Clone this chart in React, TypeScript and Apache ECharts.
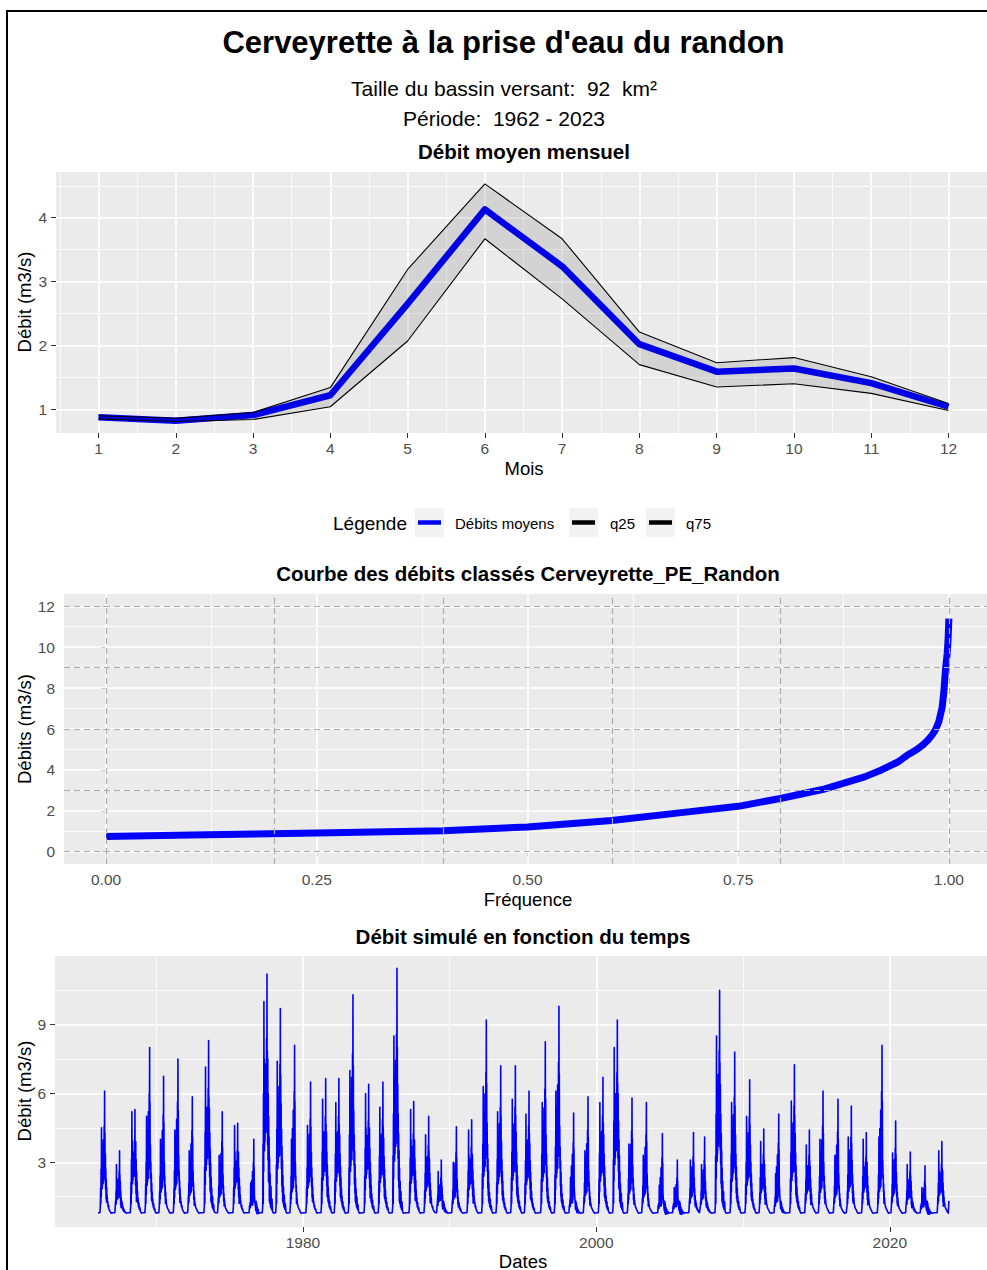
import React, { useEffect, useRef } from "react";
import * as echarts from "echarts";

const FONT = "'Liberation Sans', Arial, Helvetica, sans-serif";

// ---------- Panel 1 : Débit moyen mensuel ----------
const mois = [1, 2, 3, 4, 5, 6, 7, 8, 9, 10, 11, 12];
const debitsMoyens = [0.875, 0.82, 0.91, 1.22, 2.65, 4.13, 3.24, 2.02, 1.59, 1.64, 1.41, 1.04];
const q25 = [0.85, 0.81, 0.84, 1.04, 2.07, 3.67, 2.73, 1.7, 1.35, 1.4, 1.25, 0.98];
const q75 = [0.9, 0.86, 0.95, 1.34, 3.19, 4.53, 3.67, 2.21, 1.73, 1.81, 1.51, 1.09];
const p1TicksX = [1, 2, 3, 4, 5, 6, 7, 8, 9, 10, 11, 12];
const p1MinorX = [0.5, 1.5, 2.5, 3.5, 4.5, 5.5, 6.5, 7.5, 8.5, 9.5, 10.5, 11.5, 12.5];
const p1TicksY = [1, 2, 3, 4];
const p1MinorY = [1.5, 2.5, 3.5, 4.5];

// ---------- Panel 2 : Courbe des débits classés ----------
const frequence = [0, 0.1, 0.25, 0.4, 0.5, 0.6, 0.68, 0.75, 0.8, 0.85, 0.9, 0.92, 0.94, 0.95, 0.962, 0.97, 0.975, 0.98, 0.984, 0.988, 0.992, 0.994, 0.996, 0.998, 0.999, 1.0];
const debitsClasses = [0.74, 0.82, 0.91, 1.03, 1.21, 1.53, 1.9, 2.22, 2.6, 3.04, 3.66, 4.0, 4.4, 4.7, 5.0, 5.25, 5.45, 5.7, 5.95, 6.35, 7.05, 7.8, 8.9, 9.7, 10.3, 11.4];
const p2TicksX = [0, 0.25, 0.5, 0.75, 1];
const p2MinorX = [0.125, 0.375, 0.625, 0.875];
const p2TicksY = [0, 2, 4, 6, 8, 10, 12];
const p2MinorY = [1, 3, 5, 7, 9, 11];
const seuilsH = [0, 3, 6, 9, 12];
const seuilsV = [0, 0.2, 0.4, 0.6, 0.8, 1.0];

// ---------- Panel 3 : Débit simulé en fonction du temps ----------
const anneeDebut = 1966;
const pointeMax = [6.1, 3.5, 5.3, 8.0, 6.75, 7.5, 5.85, 8.3, 5.2, 4.7, 4.0, 11.2, 9.7, 8.1, 6.5, 6.65, 6.65, 10.3, 6.4, 6.5, 11.45, 5.65, 5.0, 3.1, 4.55, 4.85, 9.2, 7.2, 7.2, 6.1, 8.25, 9.8, 5.15, 5.85, 6.7, 9.2, 5.8, 5.6, 4.25, 3.1, 4.3, 4.1, 10.5, 7.8, 6.6, 4.45, 5.1, 7.25, 4.4, 6.1, 5.75, 5.45, 4.3, 8.1, 4.8, 3.45, 2.85, 3.9];
const pointeSec = [4.5, 2.9, 5.2, 5.0, 4.0, 4.4, 3.5, 7.15, 3.3, 4.6, 2.1, 10.0, 7.4, 4.0, 4.6, 5.75, 5.6, 7.0, 6.0, 5.4, 8.5, 5.3, 4.2, 2.6, 3.0, 4.4, 6.3, 5.2, 5.75, 5.1, 5.6, 6.1, 2.35, 3.5, 5.6, 8.0, 3.8, 3.3, 2.0, 1.9, 3.1, 2.9, 8.5, 5.6, 5.0, 3.9, 2.5, 5.67, 3.75, 4.0, 3.3, 4.1, 4.0, 4.1, 3.4, 2.9, 1.9, 3.5];
const datePointe = [0.48, 0.5, 0.55, 0.55, 0.5, 0.48, 0.46, 0.57, 0.5, 0.55, 0.65, 0.55, 0.46, 0.43, 0.52, 0.55, 0.45, 0.41, 0.48, 0.45, 0.41, 0.55, 0.57, 0.43, 0.46, 0.5, 0.5, 0.48, 0.48, 0.41, 0.52, 0.45, 0.45, 0.43, 0.45, 0.43, 0.43, 0.41, 0.5, 0.52, 0.62, 0.38, 0.4, 0.43, 0.45, 0.41, 0.43, 0.5, 0.52, 0.45, 0.47, 0.38, 0.4, 0.47, 0.4, 0.4, 0.4, 0.55];
// hydrograph profile around each yearly flood: [offset (yr), coef peak, coef secondary, constant]
const profilCrue = [
  [-0.32, 0, 0, 0.8], [-0.29, 0, 0, 1.1], [-0.27, 0, 0.35, 0.3], [-0.255, 0, 0, 1.2],
  [-0.24, 0, 0.6, 0], [-0.225, 0, 0.2, 0.6], [-0.21, 0, 1, 0], [-0.195, 0, 0.4, 0.3],
  [-0.18, 0, 0.75, 0], [-0.165, 0, 0.3, 0.5], [-0.15, 0.55, 0, 0], [-0.135, 0, 0.35, 0.4],
  [-0.12, 0.5, 0, 0.2], [-0.105, 0, 0.45, 0.3], [-0.09, 0.65, 0, 0], [-0.075, 0, 0.4, 0.3],
  [-0.06, 0.55, 0, 0.2], [-0.045, 0, 0.5, 0.2], [-0.03, 0.75, 0, 0], [-0.015, 0.4, 0, 0.3],
  [0, 1, 0, 0], [0.012, 0.45, 0, 0.3], [0.025, 0.7, 0, 0], [0.04, 0.3, 0, 0.4],
  [0.055, 0, 0.75, 0], [0.07, 0.25, 0, 0.3], [0.085, 0, 0.6, 0], [0.1, 0.15, 0, 0.5],
  [0.115, 0, 0.5, 0], [0.13, 0, 0.15, 0.6], [0.145, 0, 0.4, 0.1], [0.16, 0, 0, 1.3],
  [0.175, 0, 0.3, 0.2], [0.195, 0, 0, 1.2], [0.215, 0, 0.22, 0.3], [0.24, 0, 0, 1.05],
  [0.27, 0, 0.15, 0.45], [0.3, 0, 0, 0.95], [0.34, 0, 0.08, 0.6], [0.38, 0, 0, 0.85],
  [0.44, 0, 0, 0.78],
];
const etiage = [[0.03, 0.8]];
const finSerie = [2024.03, 1.32];
const p3TicksX = [1980, 2000, 2020];
const p3MinorX = [1970, 1990, 2010];
const p3TicksY = [3, 6, 9];
const p3MinorY = [1.5, 4.5, 7.5, 10.5];

const serieTemps: number[][] = [];
pointeMax.forEach((P, i) => {
  const an = anneeDebut + i;
  const pf = datePointe[i];
  const S = pointeSec[i];
  etiage.forEach(([t, v]) => {
    if (t < pf - 0.33) serieTemps.push([an + t, v]);
  });
  profilCrue.forEach(([dt, a, b, c]) => {
    const t = pf + dt;
    if (t >= 0 && t < 0.995) serieTemps.push([an + t, Math.max(0.74, a * P + b * S + c)]);
  });
});
serieTemps.push(finSerie);

// ---------- helpers ----------
const tickStyle = { show: true, length: 5, lineStyle: { color: "#333333", width: 1 } };
const labelBase = { color: "#4D4D4D", fontSize: 15.5, fontFamily: FONT };

function axis(gridIndex: number, min: number, max: number, ticks: number[], margin: number, fmt: (v: number) => string) {
  return {
    type: "value",
    gridIndex,
    min,
    max,
    axisLine: { show: false },
    splitLine: { show: false },
    axisTick: { ...tickStyle, customValues: ticks },
    axisLabel: { ...labelBase, customValues: ticks, margin, formatter: (v: number) => fmt(v) },
  };
}
const plain = (v: number) => String(v);

function gridLines(idx: number, majX: number[], minX: number[], majY: number[], minY: number[]) {
  const maj = { color: "#FFFFFF", width: 1.6, type: "solid" };
  const mnr = { color: "#FFFFFF", width: 0.8, type: "solid" };
  return {
    type: "line",
    xAxisIndex: idx,
    yAxisIndex: idx,
    data: [],
    silent: true,
    z: 1,
    markLine: {
      silent: true,
      z: 1,
      precision: 6,
      symbol: ["none", "none"],
      label: { show: false },
      emphasis: { disabled: true },
      data: [
        ...minX.map((v) => ({ xAxis: v, lineStyle: mnr })),
        ...minY.map((v) => ({ yAxis: v, lineStyle: mnr })),
        ...majX.map((v) => ({ xAxis: v, lineStyle: maj })),
        ...majY.map((v) => ({ yAxis: v, lineStyle: maj })),
      ],
    },
  };
}

function txt(text: string, x: number, y: number, size: number, opts: any = {}) {
  return {
    type: "text",
    x,
    y,
    rotation: opts.rotation || 0,
    style: {
      text,
      fill: opts.fill || "#000000",
      fontSize: size,
      fontWeight: opts.bold ? "bold" : "normal",
      fontFamily: FONT,
      align: opts.align || "center",
      verticalAlign: "middle",
    },
  };
}

function legendKey(x: number, color: string) {
  return [
    { type: "rect", shape: { x, y: 508, width: 29, height: 29 }, style: { fill: "#F2F2F2" } },
    { type: "line", shape: { x1: x + 3, y1: 522.5, x2: x + 26, y2: 522.5 }, style: { stroke: color, lineWidth: 4.5 } },
  ];
}

const option: any = {
  animation: false,
  backgroundColor: "#FFFFFF",
  grid: [
    { left: 56, top: 172, width: 935, height: 261, show: true, backgroundColor: "#EBEBEB", borderWidth: 0 },
    { left: 64, top: 594, width: 927, height: 270, show: true, backgroundColor: "#EBEBEB", borderWidth: 0 },
    { left: 55, top: 956, width: 936, height: 271, show: true, backgroundColor: "#EBEBEB", borderWidth: 0 },
  ],
  xAxis: [
    axis(0, 0.45, 12.55, p1TicksX, 7, plain),
    axis(1, -0.05, 1.05, p2TicksX, 7, (v) => v.toFixed(2)),
    axis(2, 1963.1, 2026.9, p3TicksX, 7, plain),
  ],
  yAxis: [
    axis(0, 0.629, 4.716, p1TicksY, 9, plain),
    axis(1, -0.6, 12.6, p2TicksY, 9, plain),
    axis(2, 0.18, 11.99, p3TicksY, 9, plain),
  ],
  series: [
    gridLines(0, p1TicksX, p1MinorX, p1TicksY, p1MinorY),
    gridLines(1, p2TicksX, p2MinorX, p2TicksY, p2MinorY),
    gridLines(2, p3TicksX, p3MinorX, p3TicksY, p3MinorY),
    {
      name: "Débits moyens",
      type: "line",
      xAxisIndex: 0,
      yAxisIndex: 0,
      z: 2,
      showSymbol: false,
      data: mois.map((m, i) => [m, debitsMoyens[i]]),
      lineStyle: { color: "#0000FF", width: 6.5, cap: "butt", join: "round" },
    },
    {
      type: "custom",
      xAxisIndex: 0,
      yAxisIndex: 0,
      z: 3,
      silent: true,
      data: mois.map((m, i) => [m, q25[i], q75[i]]),
      encode: { x: 0, y: [1, 2] },
      renderItem: (params: any, api: any) => {
        if (params.dataIndex !== 0) return null;
        const top = mois.map((m, i) => api.coord([m, q75[i]]));
        const bot = mois.map((m, i) => api.coord([m, q25[i]])).reverse();
        return { type: "polygon", shape: { points: top.concat(bot) }, style: { fill: "rgba(0,0,0,0.1)" } };
      },
    },
    {
      name: "q25",
      type: "line",
      xAxisIndex: 0,
      yAxisIndex: 0,
      z: 4,
      showSymbol: false,
      data: mois.map((m, i) => [m, q25[i]]),
      lineStyle: { color: "#000000", width: 1.1 },
    },
    {
      name: "q75",
      type: "line",
      xAxisIndex: 0,
      yAxisIndex: 0,
      z: 4,
      showSymbol: false,
      data: mois.map((m, i) => [m, q75[i]]),
      lineStyle: { color: "#000000", width: 1.1 },
    },
    {
      name: "Débits classés",
      type: "line",
      xAxisIndex: 1,
      yAxisIndex: 1,
      z: 2,
      showSymbol: false,
      data: frequence.map((f, i) => [f, debitsClasses[i]]),
      lineStyle: { color: "#0000FF", width: 7, cap: "butt", join: "round" },
      markLine: {
        silent: true,
        z: 10,
        precision: 6,
        symbol: ["none", "none"],
        label: { show: false },
        emphasis: { disabled: true },
        lineStyle: { color: "#ABABAB", width: 1.2, type: [6, 4] },
        data: [...seuilsH.map((v) => ({ yAxis: v })), ...seuilsV.map((v) => ({ xAxis: v }))],
      },
    },
    {
      name: "Débit simulé",
      type: "line",
      xAxisIndex: 2,
      yAxisIndex: 2,
      z: 2,
      showSymbol: false,
      data: serieTemps,
      lineStyle: { color: "#0000FF", width: 1.6, join: "round" },
    },
  ],
  graphic: [
    { type: "rect", shape: { x: 7, y: 11, width: 1300, height: 1500 }, style: { fill: "none", stroke: "#000000", lineWidth: 2 } },
    txt("Cerveyrette à la prise d'eau du randon", 503.5, 42, 31, { bold: true }),
    txt("Taille du bassin versant:  92  km²", 504, 88, 21),
    txt("Période:  1962 - 2023", 504, 118, 21),
    txt("Débit moyen mensuel", 524, 151, 20.5, { bold: true }),
    txt("Mois", 524, 468, 18.5),
    txt("Débit (m3/s)", 24, 302, 18.5, { rotation: Math.PI / 2 }),
    txt("Légende", 333, 523, 19, { align: "left" }),
    ...legendKey(415, "#0000FF"),
    txt("Débits moyens", 455, 523, 15, { align: "left" }),
    ...legendKey(569, "#000000"),
    txt("q25", 610, 523, 15, { align: "left" }),
    ...legendKey(646, "#000000"),
    txt("q75", 686, 523, 15, { align: "left" }),
    txt("Courbe des débits classés Cerveyrette_PE_Randon", 528, 573, 20.5, { bold: true }),
    txt("Fréquence", 528, 899, 18.5),
    txt("Débits (m3/s)", 24, 729, 18.5, { rotation: Math.PI / 2 }),
    txt("Débit simulé en fonction du temps", 523, 936, 20.5, { bold: true }),
    txt("Dates", 523, 1261, 18.5),
    txt("Débit (m3/s)", 24, 1091, 18.5, { rotation: Math.PI / 2 }),
  ],
};

export default function App() {
  const ref = useRef<HTMLDivElement>(null);
  useEffect(() => {
    const chart = echarts.init(ref.current as HTMLDivElement, undefined, { renderer: "svg" });
    chart.setOption(option);
    return () => chart.dispose();
  }, []);
  return (
    <div
      ref={ref}
      style={{ position: "fixed", left: 0, top: 0, width: 992, height: 1270, background: "#FFFFFF" }}
    />
  );
}
